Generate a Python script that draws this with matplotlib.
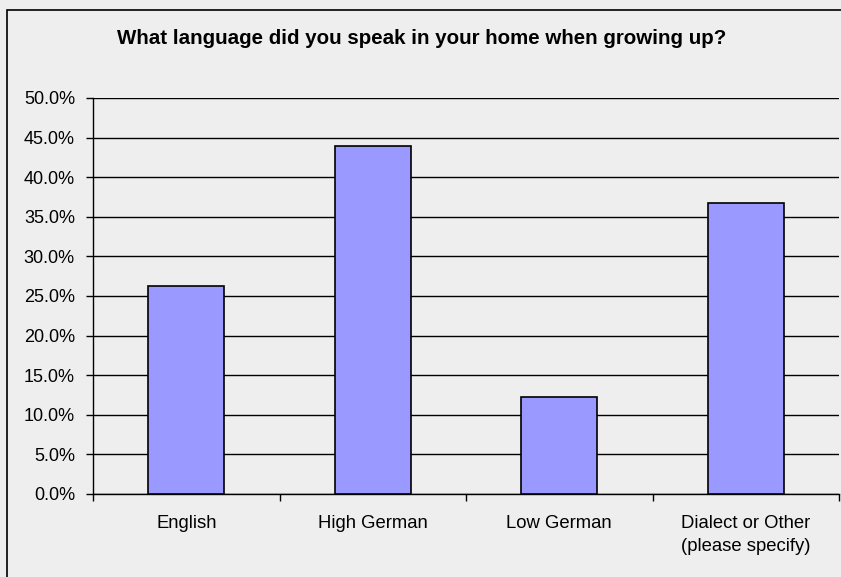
import matplotlib
matplotlib.use("Agg")
import matplotlib.pyplot as plt
from matplotlib.patches import Rectangle
from matplotlib.ticker import FuncFormatter, MultipleLocator, FixedLocator, NullFormatter

categories = ["English", "High German", "Low German", "Dialect or Other\n(please specify)"]
values = [26.2, 43.9, 12.3, 36.8]
title = "What language did you speak in your home when growing up?"

plt.rcParams['font.family'] = ['Liberation Sans', 'DejaVu Sans']

W, H = 841, 577
fig = plt.figure(figsize=(W / 100, H / 100), dpi=100)
fig.patch.set_facecolor("#EEEEEE")

# outer chart frame (extends past the right and bottom edges)
fig.add_artist(Rectangle((7 / W, -0.05), 1.1, (H - 10) / H + 0.05, transform=fig.transFigure,
                         fill=False, edgecolor="black", linewidth=1.2))

ax = fig.add_axes([93 / W, (H - 494) / H, (839 - 93) / W, (494 - 98) / H])
ax.set_facecolor("#EEEEEE")

x = list(range(len(categories)))
ax.bar(x, values, width=0.41, color="#9999FF", edgecolor="black", linewidth=1.2, zorder=3)

ax.set_xlim(-0.5, len(categories) - 0.5)
ax.set_ylim(0, 50)
ax.yaxis.set_major_locator(MultipleLocator(5))
ax.yaxis.set_major_formatter(FuncFormatter(lambda v, p: f"{v:.1f}%"))
ax.grid(axis="y", color="black", linewidth=1.0, zorder=1)

ax.set_xticks(x)
ax.set_xticklabels(categories, fontsize=13.3, linespacing=1.5)
ax.xaxis.set_minor_locator(FixedLocator([i - 0.5 for i in range(len(categories) + 1)]))
ax.xaxis.set_minor_formatter(NullFormatter())
ax.tick_params(axis="x", which="major", length=0, pad=15)
ax.tick_params(axis="x", which="minor", length=5, width=1, color="black")
ax.tick_params(axis="y", length=5, width=1, color="black", labelsize=13, pad=8)

for s in ("top", "right"):
    ax.spines[s].set_visible(False)
for s in ("left", "bottom"):
    ax.spines[s].set_color("black")
    ax.spines[s].set_linewidth(1.0)

fig.text(422 / W, 1 - 44 / H, title, ha="center", va="baseline",
         fontsize=14.8, fontweight="bold")

fig.savefig("out.png", dpi=100, facecolor=fig.get_facecolor())
